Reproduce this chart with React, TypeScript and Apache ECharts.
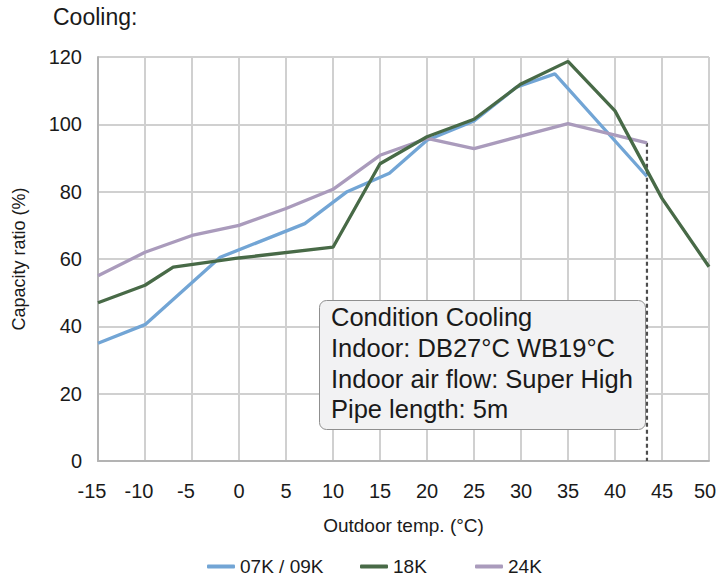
import React, { useEffect, useRef } from "react";
import * as echarts from "echarts";

// ---- data ----
const xTicks = [-15, -10, -5, 0, 5, 10, 15, 20, 25, 30, 35, 40, 45, 50];

const seriesNames = ["07K / 09K", "18K", "24K"];

const tempBlue = [-15, -10, -2, 7, 11.5, 16, 20, 25, 29.5, 33.6, 43.4];
const ratioBlue = [35, 40.5, 60.5, 70.5, 80, 85.5, 95.3, 101, 111, 115, 84.5];

const tempGreen = [-15, -10, -7, 0, 10, 15, 20, 25, 30, 35, 40, 45, 50];
const ratioGreen = [47, 52.2, 57.6, 60.3, 63.5, 88.3, 96.3, 101.5, 112, 118.7, 104, 78, 57.7];

const tempPurple = [-15, -10, -5, 0, 5, 10, 15, 20, 25, 35, 43.4];
const ratioPurple = [55, 62, 67, 70, 75, 80.7, 90.8, 95.8, 92.8, 100.2, 94.5];

const limitTemp = [43.4, 43.4];
const limitRatio = [94.5, 0];

const noteLines = [
  "Condition Cooling",
  "Indoor: DB27°C WB19°C",
  "Indoor air flow: Super High",
  "Pipe length: 5m",
];

const FONT = "'Liberation Sans', Arial, sans-serif";
const BLUE = "#72a5d5";
const GREEN = "#486a47";
const PURPLE = "#aa9bbc";

const zip = (xs: number[], ys: number[]) => xs.map((x, i) => [x, ys[i]]);

export default function App() {
  const ref = useRef<HTMLDivElement>(null);

  useEffect(() => {
    const chart = echarts.init(ref.current!, null, { renderer: "svg" });
    const legendBase = {
      top: 557,
      padding: 0,
      icon: "roundRect",
      itemWidth: 28,
      itemHeight: 4,
      textStyle: { fontSize: 19, color: "#1a1a1a", fontFamily: FONT },
    };
    const tickText = { fontSize: 20, color: "#1a1a1a", fontFamily: FONT };
    chart.setOption({
      animation: false,
      backgroundColor: "#ffffff",
      textStyle: { fontFamily: FONT },
      title: {
        text: "Cooling:",
        left: 53,
        top: 5,
        padding: 0,
        textStyle: { fontSize: 23, fontWeight: "normal", color: "#1a1a1a", fontFamily: FONT },
      },
      legend: [
        { ...legendBase, left: 207, data: [seriesNames[0]] },
        { ...legendBase, left: 360, data: [seriesNames[1]] },
        { ...legendBase, left: 475, data: [seriesNames[2]] },
      ],
      grid: {
        left: 98,
        right: 7,
        top: 57,
        bottom: 119,
        containLabel: false,
        outerBoundsMode: "none",
      },
      xAxis: {
        type: "value",
        min: xTicks[0],
        max: xTicks[xTicks.length - 1],
        interval: 5,
        name: "Outdoor temp. (°C)",
        nameLocation: "middle",
        nameGap: 55,
        nameTextStyle: { fontSize: 19, color: "#1a1a1a", fontFamily: FONT },
        axisLine: { show: true, onZero: false, lineStyle: { color: "#b3b3b3", width: 2 } },
        axisTick: { show: false },
        axisLabel: {
          ...tickText,
          margin: 20,
          formatter: (v: number) =>
            v < 0 ? `{neg|${v}}` : v === xTicks[xTicks.length - 1] ? `{last|${v}}` : `{n|${v}}`,
          rich: {
            neg: { ...tickText, padding: [0, 12, 0, 0] },
            last: { ...tickText, padding: [0, 8, 0, 0] },
            n: { ...tickText },
          },
        },
        splitLine: { show: true, lineStyle: { color: "#d0d0d0", width: 2 } },
      },
      yAxis: {
        type: "value",
        min: 0,
        max: 120,
        interval: 20,
        name: "Capacity ratio (%)",
        nameLocation: "middle",
        nameGap: 70,
        nameTextStyle: { fontSize: 18, color: "#1a1a1a", fontFamily: FONT },
        axisLine: { show: true, onZero: false, lineStyle: { color: "#b3b3b3", width: 2 } },
        axisTick: { show: false },
        axisLabel: { ...tickText, margin: 16 },
        splitLine: { show: true, lineStyle: { color: "#d0d0d0", width: 2 } },
      },
      series: [
        {
          name: seriesNames[0],
          type: "line",
          data: zip(tempBlue, ratioBlue),
          showSymbol: false,
          symbol: "none",
          itemStyle: { color: BLUE },
          lineStyle: { color: BLUE, width: 3.3 },
        },
        {
          name: seriesNames[2],
          type: "line",
          data: zip(tempPurple, ratioPurple),
          showSymbol: false,
          symbol: "none",
          itemStyle: { color: PURPLE },
          lineStyle: { color: PURPLE, width: 3.3 },
        },
        {
          name: seriesNames[1],
          type: "line",
          data: zip(tempGreen, ratioGreen),
          showSymbol: false,
          symbol: "none",
          itemStyle: { color: GREEN },
          lineStyle: { color: GREEN, width: 3.3 },
        },
        {
          name: "limit",
          type: "line",
          data: zip(limitTemp, limitRatio),
          showSymbol: false,
          symbol: "none",
          silent: true,
          z: 1,
          lineStyle: { color: "#4d4d4d", width: 2.2, type: [4, 3] },
        },
      ],
      graphic: [
        {
          type: "rect",
          left: 319,
          top: 300,
          shape: { width: 326, height: 129, r: 7 },
          style: { fill: "#f2f2f3", stroke: "#8f8f8f", lineWidth: 1 },
          z: 10,
        },
        {
          type: "text",
          left: 331,
          top: 302,
          z: 11,
          style: {
            text: noteLines.join("\n"),
            fontSize: 25.5,
            lineHeight: 30.7,
            fill: "#1a1a1a",
            fontFamily: FONT,
          },
        },
      ],
    });
    return () => chart.dispose();
  }, []);

  return (
    <div
      ref={ref}
      style={{ position: "fixed", left: 0, top: 0, width: 716, height: 580, background: "#fff" }}
    />
  );
}
